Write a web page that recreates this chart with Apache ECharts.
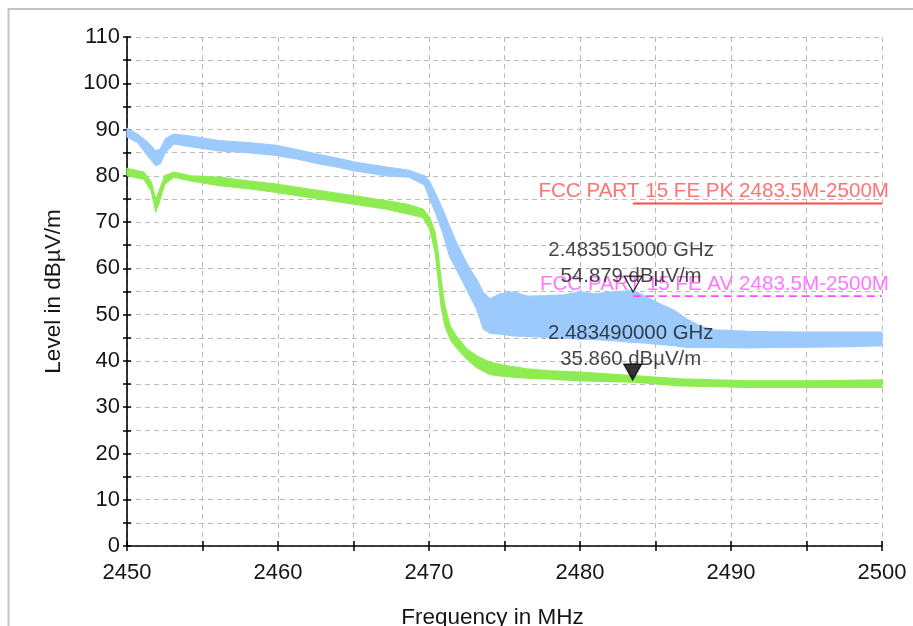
<!DOCTYPE html>
<html>
<head>
<meta charset="utf-8">
<script src="https://cdn.jsdelivr.net/npm/echarts@6/dist/echarts.min.js"></script>
<style>
  html, body { margin: 0; padding: 0; background: #fff; }
  #chart { width: 913px; height: 626px; }
</style>
</head>
<body>
<div id="chart"></div>
<script>
// ---- Peak trace (blue): frequency (MHz), lower / upper envelope (dBµV/m)
const pkFreq = [2450.0, 2450.7, 2451.35, 2451.9, 2452.2, 2452.55, 2453.1, 2454.2, 2456.1, 2458.0,
  2459.9, 2461.3, 2462.75, 2464.0, 2465.0, 2467.2, 2468.7, 2469.4, 2469.7, 2470.05,
  2470.5, 2470.9, 2471.35, 2471.8, 2472.25, 2472.7, 2473.15, 2473.6, 2474.05, 2474.7,
  2475.6, 2476.5, 2477.8, 2479.0, 2480.0, 2481.0, 2482.2, 2483.5, 2484.2, 2484.9,
  2485.5, 2486.2, 2487.1, 2488.0, 2488.9, 2491.1, 2493.0, 2495.5, 2498.0, 2500.0];
const pkLow = [88.4, 87.2, 84.4, 82.2, 82.6, 85.1, 86.9, 86.3, 85.4, 85.0,
  84.4, 83.6, 82.6, 81.8, 81.1, 80.0, 79.7, 78.5, 78.0, 75.0,
  71.4, 67.8, 62.7, 59.9, 57.0, 54.1, 51.2, 46.9, 46.0, 45.8,
  45.4, 45.3, 45.1, 44.9, 44.7, 44.6, 44.4, 44.0, 43.9, 43.7,
  43.5, 43.3, 42.9, 42.9, 42.9, 42.8, 42.9, 43.0, 43.1, 43.3];
const pkHigh = [90.3, 89.0, 87.3, 85.4, 85.8, 88.0, 89.0, 88.6, 87.6, 87.2,
  86.6, 85.6, 84.6, 83.8, 83.0, 81.9, 81.2, 80.3, 80.0, 78.7,
  75.7, 72.8, 69.2, 65.7, 62.7, 59.9, 57.7, 54.8, 53.4, 54.5,
  54.9, 54.0, 54.1, 54.3, 54.9, 54.5, 54.9, 55.2, 54.2, 53.0,
  52.0, 51.0, 49.0, 47.5, 46.7, 46.4, 46.3, 46.2, 46.2, 46.2];

// ---- Average trace (green)
const avFreq = [2450.0, 2451.1, 2451.6, 2451.9, 2452.1, 2452.5, 2453.1, 2454.2, 2456.1, 2458.0,
  2459.9, 2461.3, 2462.75, 2465.0, 2467.2, 2468.5, 2469.6, 2470.05, 2470.4, 2470.6,
  2470.8, 2471.05, 2471.4, 2471.8, 2472.5, 2473.15, 2474.05, 2475.1, 2476.5, 2477.8,
  2480.0, 2483.5, 2486.7, 2491.1, 2495.5, 2500.0];
const avLow = [80.0, 79.3, 76.8, 72.3, 73.9, 78.2, 79.7, 78.9, 77.9, 77.2,
  76.4, 75.7, 75.0, 73.9, 72.8, 71.8, 71.0, 68.5, 63.5, 57.7,
  51.9, 47.6, 44.7, 42.9, 40.4, 38.6, 37.0, 36.6, 36.3, 36.1,
  35.7, 35.4, 34.6, 34.3, 34.3, 34.3];
const avHigh = [81.6, 80.8, 78.7, 75.0, 76.5, 80.0, 80.8, 80.0, 79.7, 78.9,
  78.2, 77.5, 76.8, 75.7, 74.6, 73.9, 72.8, 71.0, 67.8, 63.5,
  57.7, 51.9, 47.6, 45.4, 42.6, 41.1, 39.7, 39.0, 38.3, 37.9,
  37.6, 36.8, 36.1, 35.7, 35.7, 35.9];

// ---- Limit lines
const limitRange = [2483.5, 2500];
const pkLimit = 74;
const avLimit = 54;
const pkLimitName = 'FCC PART 15 FE PK 2483.5M-2500M';
const avLimitName = 'FCC PART 15 FE AV 2483.5M-2500M';

// ---- Markers
const markerFreq = [2483.515, 2483.490];
const markerLevel = [54.879, 35.860];

// ---- Axes
const xMin = 2450, xMax = 2500, xStep = 5;
const yMin = 0, yMax = 110, yStep = 5;
const xTitle = 'Frequency in MHz';
const yTitle = 'Level in dBµV/m';

const FONT = '"Liberation Sans", Arial, sans-serif';
const TXT = '#161616';
const BLUE = '#9ccafc';
const GREEN = '#8eec52';

function bandSeries(freq, low, high, color) {
  return {
    type: 'custom',
    silent: true,
    z: 2,
    data: freq.map((f, i) => [f, low[i], high[i]]),
    encode: { x: 0, y: [1, 2] },
    renderItem: function (params, api) {
      if (params.dataIndex !== 0) return null;
      const top = freq.map((f, i) => api.coord([f, high[i]]));
      const bot = freq.map((f, i) => api.coord([f, low[i]])).reverse();
      return {
        type: 'polygon',
        shape: { points: top.concat(bot) },
        style: { fill: color, stroke: color, lineWidth: 1.2 }
      };
    }
  };
}

function limitSeries(level, color, lineType, width) {
  return {
    type: 'line',
    z: 3,
    symbol: 'none',
    lineStyle: { color: color, width: width, type: lineType },
    data: [[limitRange[0], level], [limitRange[1], level]]
  };
}

function limitLabelSeries(level, name, color, dy) {
  return {
    type: 'scatter',
    z: 4,
    silent: true,
    symbol: 'circle',
    symbolSize: 2,
    itemStyle: { color: 'rgba(0,0,0,0)' },
    label: {
      show: true, position: 'top', align: 'right', distance: 5,
      offset: [7, dy], formatter: name,
      color: color, fontSize: 20.6, fontFamily: FONT
    },
    data: [[limitRange[1], level]]
  };
}

function markerSeries(idx, fill, dy) {
  return {
    type: 'scatter',
    z: 5,
    symbol: 'path://M0,0L20,0L10,18Z',
    symbolSize: [18, 16],
    symbolOffset: [0, '-50%'],
    itemStyle: { color: fill, borderColor: '#000', borderWidth: 1.2 },
    label: {
      show: true, position: 'top', offset: [-2, dy],
      color: TXT, fontSize: 20.4, fontFamily: FONT, lineHeight: 26, align: 'center',
      formatter: p => (p.value[0] / 1000).toFixed(9) + ' GHz\n' + p.value[1].toFixed(3) + ' dBµV/m'
    },
    data: [[markerFreq[idx], markerLevel[idx]]]
  };
}

const gridLine = { show: true, lineStyle: { color: '#bababa', width: 1, type: [5, 4] } };

const chart = echarts.init(document.getElementById('chart'), null, { renderer: 'canvas' });
chart.setOption({
  animation: false,
  backgroundColor: '#fff',
  graphic: [{
    type: 'rect', z: -10, silent: true,
    shape: { x: 8.5, y: 9, width: 1200, height: 1200 },
    style: { fill: 'none', stroke: '#c4c4c4', lineWidth: 2 }
  }],
  grid: { left: 127, right: 31, top: 37, bottom: 80, containLabel: false, outerBoundsMode: 'none' },
  xAxis: [{
    type: 'value', min: xMin, max: xMax, interval: xStep,
    name: xTitle, nameLocation: 'middle', nameGap: 60,
    nameTextStyle: { color: TXT, fontSize: 22.5, fontFamily: FONT, padding: [0, 24, 0, 0] },
    axisLine: { show: true, onZero: false, lineStyle: { color: '#000', width: 1.6 } },
    axisTick: { show: true, length: 5, lineStyle: { color: '#000', width: 1.5 } },
    axisLabel: {
      color: TXT, fontSize: 22, fontFamily: FONT, margin: 16,
      formatter: v => (v % 10 === 0 ? String(v) : '')
    },
    splitLine: gridLine
  }, {
    type: 'value', min: xMin, max: xMax, interval: xStep, position: 'bottom',
    axisLine: { show: false },
    axisTick: { show: true, inside: true, length: 5, lineStyle: { color: '#000', width: 1.5 } },
    axisLabel: { show: false }, splitLine: { show: false }
  }],
  yAxis: [{
    type: 'value', min: yMin, max: yMax, interval: yStep,
    name: yTitle, nameLocation: 'middle', nameGap: 62,
    nameTextStyle: { color: TXT, fontSize: 22.5, fontFamily: FONT },
    axisLine: { show: true, onZero: false, lineStyle: { color: '#000', width: 1.6 } },
    axisTick: { show: true, length: 4, lineStyle: { color: '#000', width: 1.5 } },
    axisLabel: {
      color: TXT, fontSize: 22, fontFamily: FONT, margin: 7,
      formatter: v => (v % 10 === 0 ? String(v) : '')
    },
    splitLine: gridLine
  }, {
    type: 'value', min: yMin, max: yMax, interval: yStep, position: 'left',
    axisLine: { show: false },
    axisTick: { show: true, inside: true, length: 4, lineStyle: { color: '#000', width: 1.5 } },
    axisLabel: { show: false }, splitLine: { show: false }
  }],
  series: [
    bandSeries(pkFreq, pkLow, pkHigh, BLUE),
    bandSeries(avFreq, avLow, avHigh, GREEN),
    limitSeries(pkLimit, '#ff4646', 'solid', 2),
    limitSeries(avLimit, '#ff4dff', [8, 5], 1.6),
    limitLabelSeries(pkLimit, pkLimitName, '#ff5050', 4),
    limitLabelSeries(avLimit, avLimitName, '#ff55ff', 5),
    markerSeries(0, 'rgba(0,0,0,0)', 19),
    markerSeries(1, '#000', 14)
  ]
});
</script>
</body>
</html>
